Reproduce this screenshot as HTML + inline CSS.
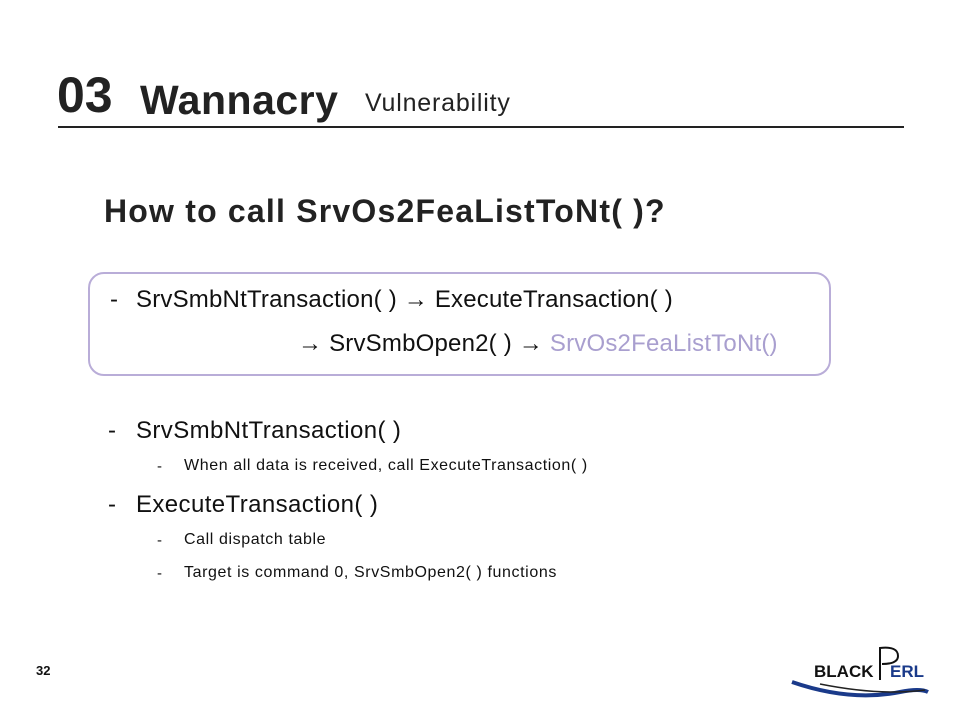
<!DOCTYPE html>
<html><head><meta charset="utf-8"><style>
body{margin:0;width:960px;height:720px;background:#fff;position:relative;overflow:hidden;font-family:"Liberation Sans",sans-serif;color:#111}
.a{position:absolute;white-space:nowrap;line-height:1}
</style></head><body>
<div class="a" style="left:57px;top:70px;font-size:50px;font-weight:bold;color:#222">03</div>
<div class="a" style="left:140px;top:80px;font-size:41px;font-weight:bold;color:#222;letter-spacing:0.5px">Wannacry</div>
<div class="a" style="left:365px;top:91px;font-size:25px;color:#222;letter-spacing:0.8px">Vulnerability</div>
<div class="a" style="left:58px;top:126px;width:846px;height:2px;background:#222"></div>
<div class="a" style="left:104px;top:195px;font-size:32px;font-weight:bold;color:#222;letter-spacing:1.2px">How to call SrvOs2FeaListToNt( )?</div>
<div class="a" style="left:88px;top:272px;width:739px;height:100px;border:2px solid #b9add8;border-radius:16px"></div>
<div class="a" style="left:110px;top:288px;font-size:24px">-</div>
<div class="a" style="left:136px;top:288px;font-size:24px;letter-spacing:0.2px">SrvSmbNtTransaction( ) → ExecuteTransaction( )</div>
<div class="a" style="left:298px;top:332px;font-size:24px;letter-spacing:0.2px">→ SrvSmbOpen2( ) → <span style="color:#a99fcf">SrvOs2FeaListToNt()</span></div>
<div class="a" style="left:108px;top:419px;font-size:24px">-</div>
<div class="a" style="left:136px;top:419px;font-size:24px;letter-spacing:0.4px">SrvSmbNtTransaction( )</div>
<div class="a" style="left:157px;top:459px;font-size:15px">-</div>
<div class="a" style="left:184px;top:458px;font-size:16px;letter-spacing:0.6px">When all data is received, call ExecuteTransaction( )</div>
<div class="a" style="left:108px;top:493px;font-size:24px">-</div>
<div class="a" style="left:136px;top:493px;font-size:24px;letter-spacing:0.4px">ExecuteTransaction( )</div>
<div class="a" style="left:157px;top:533px;font-size:15px">-</div>
<div class="a" style="left:184px;top:532px;font-size:16px;letter-spacing:0.6px">Call dispatch table</div>
<div class="a" style="left:157px;top:566px;font-size:15px">-</div>
<div class="a" style="left:184px;top:565px;font-size:16px;letter-spacing:0.6px">Target is command 0, SrvSmbOpen2( ) functions</div>
<div class="a" style="left:36px;top:664px;font-size:13px;font-weight:bold">32</div>
<svg class="a" style="left:780px;top:640px" width="170" height="60">
<path d="M12 42 Q70 62 120 52 Q140 48 148 52" stroke="#1a3a8a" stroke-width="4" fill="none"/>
<path d="M40 44 Q100 56 145 50" stroke="#222" stroke-width="1.5" fill="none"/>
<text x="34" y="37" font-family="Liberation Sans" font-weight="bold" font-size="17" fill="#111">BLACK</text>
<path d="M100 40 L100 8 Q118 6 118 16 Q118 24 102 24" stroke="#111" stroke-width="2" fill="none"/>
<text x="110" y="37" font-family="Liberation Sans" font-weight="bold" font-size="17" fill="#1a3a8a">ERL</text>
</svg>
</body></html>
